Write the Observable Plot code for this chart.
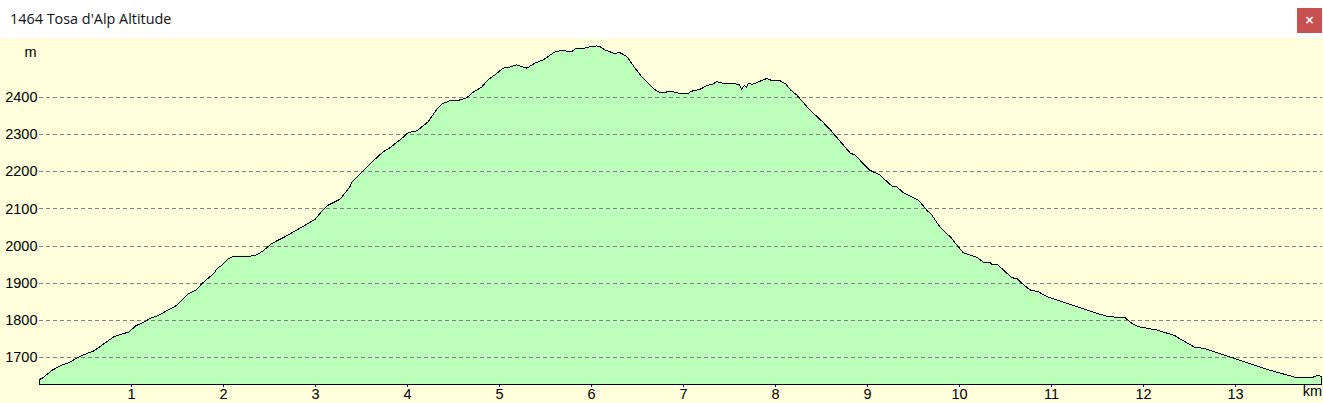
<!DOCTYPE html>
<html>
<head>
<meta charset="utf-8">
<script src="https://cdn.jsdelivr.net/npm/d3@7"></script>
<script src="https://cdn.jsdelivr.net/npm/@observablehq/plot@0.6"></script>
<style>
html,body{margin:0;padding:0;background:#fff;overflow:hidden}
#head{position:relative;height:38px;width:1323px;background:#fff}
#title{position:absolute;left:10px;top:9px;font:14.4px/20px "Open Sans",sans-serif;color:#111}
#close{position:absolute;left:1297px;top:8px;width:25px;height:25px;background:#c75050;color:#fff;font:bold 12px/25px "DejaVu Sans",sans-serif;text-align:center}
svg{display:block}
</style>
</head>
<body>
<div id="head"><div id="title">1464 Tosa d'Alp Altitude</div><div id="close">×</div></div>
<div id="chart"></div>
<script>
const km = [0,0.03,0.139,0.248,0.302,0.448,0.592,0.81,0.973,1.046,1.154,1.209,1.299,1.426,1.473,1.552,1.607,1.704,1.77,1.897,1.933,1.987,2.041,2.114,2.296,2.367,2.44,2.524,2.668,2.796,2.995,3.049,3.122,3.266,3.375,3.393,3.52,3.647,3.737,3.81,3.954,4.009,4.1,4.226,4.317,4.383,4.48,4.535,4.643,4.712,4.806,4.875,4.951,5.038,5.114,5.187,5.299,5.386,5.473,5.603,5.676,5.785,5.821,5.929,5.984,6.057,6.092,6.147,6.255,6.299,6.383,6.473,6.56,6.69,6.745,6.8,6.853,6.962,7.049,7.089,7.179,7.252,7.321,7.361,7.43,7.524,7.603,7.633,7.658,7.687,7.701,7.755,7.832,7.904,7.959,8.049,8.114,8.165,8.23,8.375,8.502,8.592,8.72,8.81,8.864,9.02,9.136,9.263,9.317,9.389,9.552,9.643,9.698,9.788,9.915,9.97,10.041,10.187,10.259,10.332,10.35,10.415,10.567,10.628,10.676,10.766,10.857,10.948,11.491,11.617,11.799,11.872,11.943,12.143,12.342,12.397,12.56,12.65,12.723,12.973,13.339,13.647,13.842,13.897,13.937];
const altitude = [1641,1644,1666,1680,1684,1704,1718,1756,1769,1785,1798,1806,1814,1832,1837,1855,1870,1882,1900,1927,1940,1949,1964,1973,1973,1977,1989,2007,2025,2043,2072,2088,2108,2126,2160,2171,2203,2234,2254,2265,2293,2306,2310,2335,2368,2384,2393,2391,2399,2414,2428,2448,2461,2479,2482,2488,2479,2493,2501,2523,2527,2523,2531,2533,2537,2539,2537,2528,2518,2522,2511,2479,2452,2421,2413,2414,2417,2411,2411,2417,2422,2432,2436,2443,2438,2437,2436,2422,2432,2428,2437,2436,2444,2451,2446,2445,2436,2420,2407,2366,2337,2314,2277,2251,2245,2205,2191,2162,2160,2144,2124,2097,2084,2051,2021,2003,1982,1970,1957,1956,1951,1950,1915,1912,1900,1882,1877,1864,1819,1810,1807,1792,1783,1774,1759,1750,1727,1725,1719,1699,1668,1647,1647,1652,1648];
const kmTicks = [1,2,3,4,5,6,7,8,9,10,11,12,13];
const altTicks = [1700,1800,1900,2000,2100,2200,2300,2400];
const floor = 1627.3, ceiling = 2558.9, kmEnd = 13.94;

const profile = km.map((k,i)=>({km:k, alt:altitude[i]}));
const outline = [{km:km[0],alt:floor},...profile,{km:km[km.length-1],alt:floor}];

const plot = Plot.plot({
  width:1323, height:365,
  marginTop:0, marginBottom:19, marginLeft:39, marginRight:1.5,
  style:{background:"#ffffdc", fontFamily:"'Liberation Sans',Arial,sans-serif", fontSize:"14px", color:"#000"},
  x:{domain:[0,kmEnd]},
  y:{domain:[floor,ceiling]},
  marks:[
    Plot.areaY(profile,{x:"km",y1:floor,y2:"alt",fill:"#bbffbb"}),
    Plot.ruleY(altTicks,{stroke:"#808080",strokeDasharray:"4 3",strokeWidth:1,x1:0,x2:kmEnd,shapeRendering:"crispEdges"}),
    Plot.line(outline,{x:"km",y:"alt",stroke:"#000",strokeWidth:1,shapeRendering:"crispEdges"}),
    Plot.ruleY([floor],{stroke:"#000",strokeWidth:1,shapeRendering:"crispEdges"}),
    Plot.axisX({ticks:kmTicks,tickFormat:d=>d,tickSize:3,tickPadding:1,stroke:"#0000cc",fill:"#000",label:null,fontSize:14.5}),
    Plot.axisY({ticks:altTicks,tickFormat:d=>String(d),tickSize:0,tickPadding:2,fill:"#000",label:null,fontSize:14.5}),
    Plot.text(["m"],{frameAnchor:"top-left",dx:-15,dy:8,textAnchor:"start",fill:"#000",fontSize:14.5}),
    Plot.text(["km"],{frameAnchor:"bottom-right",dx:0,dy:11,textAnchor:"end",fill:"#000",fontSize:14.5})
  ]
});
document.getElementById("chart").appendChild(plot);
</script>
</body>
</html>
